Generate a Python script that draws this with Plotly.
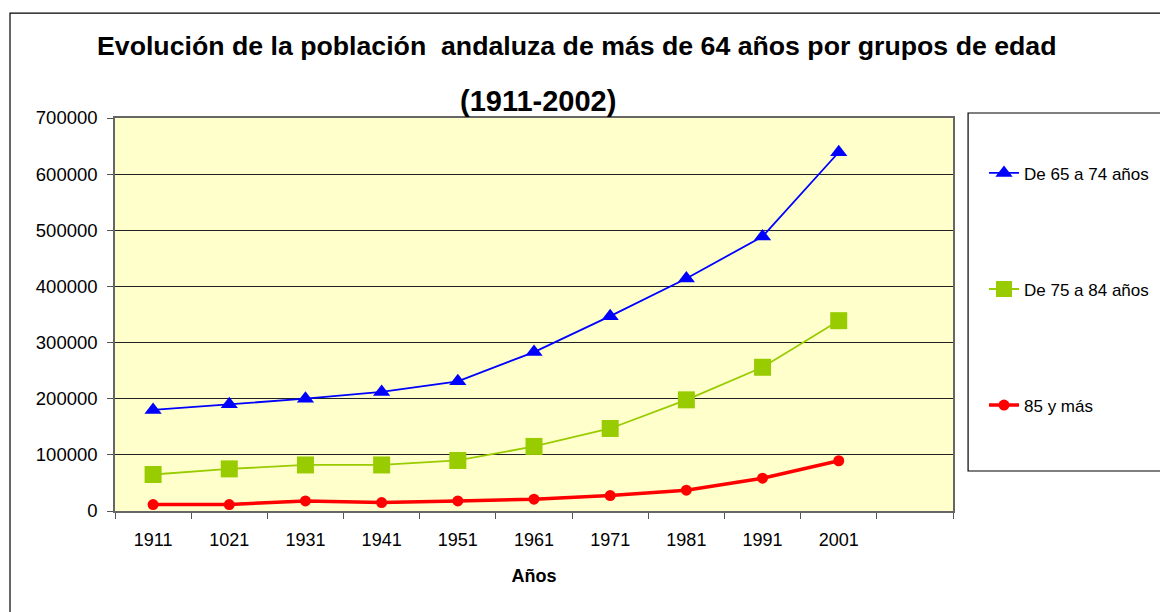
import plotly.graph_objects as go

categories = ["1911", "1021", "1931", "1941", "1951", "1961", "1971", "1981", "1991", "2001"]
extra_slot = [" "]
series_names = ["De 65 a 74 años", "De 75 a 84 años", "85 y más"]
de_65_74 = [180000, 190000, 200000, 212000, 231000, 283000, 347000, 414000, 489000, 639000]
de_75_84 = [65000, 75000, 82000, 82000, 90000, 115000, 147000, 198000, 256000, 339000]
de_85_mas = [11500, 11500, 18000, 15000, 18000, 21000, 27500, 37000, 58500, 89500]
y_ticks = [0, 100000, 200000, 300000, 400000, 500000, 600000, 700000]

FONT = "Arial, 'Liberation Sans', sans-serif"

fig = go.Figure()
fig.add_trace(go.Scatter(
    x=categories, y=de_65_74, name=series_names[0], legendgroup="a",
    mode="lines+markers",
    line=dict(color="#0000FF", width=1.8),
    marker=dict(symbol="triangle-up", size=15, color="#0000FF"),
))
fig.add_trace(go.Scatter(
    x=categories, y=de_75_84, name=series_names[1], legendgroup="b",
    mode="lines+markers",
    line=dict(color="#99CC00", width=1.8),
    marker=dict(symbol="square", size=17, color="#99CC00"),
))
fig.add_trace(go.Scatter(
    x=categories, y=de_85_mas, name=series_names[2], legendgroup="c",
    mode="lines+markers",
    line=dict(color="#FF0000", width=3.5),
    marker=dict(symbol="circle", size=11, color="#FF0000"),
))

fig.update_layout(
    width=1160, height=612,
    margin=dict(l=115, r=207, t=118, b=101, autoexpand=False),
    paper_bgcolor="white",
    plot_bgcolor="#FFFFCC",
    font=dict(family=FONT, size=18, color="black"),
    showlegend=True,
    legend=dict(
        x=1.037, xanchor="left", y=0.905, yanchor="top",
        bgcolor="rgba(0,0,0,0)", borderwidth=0,
        font=dict(family=FONT, size=17, color="black"),
        tracegroupgap=91, traceorder="grouped",
    ),
    xaxis=dict(
        type="category",
        categoryorder="array", categoryarray=categories + extra_slot,
        range=[-0.5, 10.5],
        tickson="boundaries", ticks="outside", ticklen=6, tickcolor="#555555",
        showgrid=False, showline=True, linecolor="#666666", linewidth=1.5,
        mirror=True, zeroline=False,
        ticklabelstandoff=12,
        tickfont=dict(family=FONT, size=18),
        title=dict(text="<b>Años</b>", font=dict(family=FONT, size=18), standoff=20),
    ),
    yaxis=dict(
        range=[0, 700000], tickvals=y_ticks, tickformat="d",
        ticks="outside", ticklen=6, tickcolor="#555555",
        ticklabelstandoff=6,
        showgrid=True, gridcolor="#222222", gridwidth=1,
        showline=True, linecolor="#666666", linewidth=1.5, mirror=True,
        zeroline=False,
        tickfont=dict(family=FONT, size=18.5),
    ),
    shapes=[
        dict(type="rect", xref="paper", yref="paper",
             x0=-0.1253, x1=1.6, y0=-1.0, y1=1.267,
             line=dict(color="black", width=1.2), fillcolor="rgba(0,0,0,0)", layer="below"),
        dict(type="rect", xref="paper", yref="paper",
             x0=1.018, x1=1.6, y0=0.1018, y1=1.0127,
             line=dict(color="black", width=1.2), fillcolor="rgba(0,0,0,0)"),
    ],
    annotations=[
        dict(text="<b>Evolución de la población  andaluza de más de 64 años por grupos de edad</b>",
             xref="paper", yref="paper", x=(576 - 115) / 838, y=1.183,
             xanchor="center", yanchor="middle", showarrow=False,
             font=dict(family=FONT, size=26.7, color="black")),
        dict(text="<b>(1911-2002)</b>",
             xref="paper", yref="paper", x=(538 - 115) / 838, y=1.043,
             xanchor="center", yanchor="middle", showarrow=False,
             font=dict(family=FONT, size=29, color="black")),
    ],
)

fig.write_html("out.html", config={"displayModeBar": False},
               post_script="document.body.style.margin='0';document.body.style.overflow='hidden';")
